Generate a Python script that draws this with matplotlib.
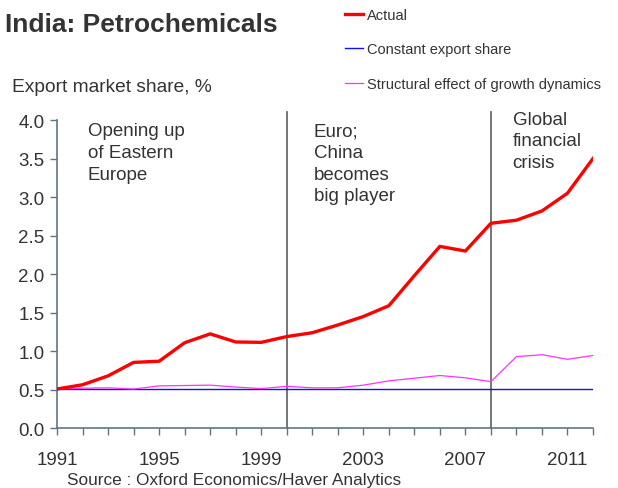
import matplotlib.pyplot as plt
import numpy as np

plt.rcParams['font.family'] = ['Liberation Sans', 'DejaVu Sans']

# export market share, % (India, petrochemicals)
years = np.arange(1991, 2013)
actual = [0.51, 0.565, 0.68, 0.855, 0.87, 1.11, 1.225, 1.12, 1.115, 1.19, 1.24,
          1.34, 1.45, 1.59, 1.98, 2.36, 2.30, 2.66, 2.70, 2.82, 3.05, 3.50]
constant = [0.505] * len(years)
structural = [0.51, 0.52, 0.525, 0.51, 0.55, 0.555, 0.56, 0.535, 0.515, 0.545, 0.525,
              0.525, 0.56, 0.615, 0.65, 0.685, 0.655, 0.605, 0.93, 0.955, 0.895, 0.945]

events = [2000, 2008]
event_labels = ['Opening up\nof Eastern\nEurope', 'Euro;\nChina\nbecomes\nbig player',
                'Global\nfinancial\ncrisis']
event_x = [1992.2, 2001.05, 2008.85]
event_y = [3.97, 3.97, 4.12]

txt = '#333333'
spine = '#5f7585'

fig = plt.figure(figsize=(6.18, 4.89), dpi=100)
ax = fig.add_axes([57 / 618, 1 - 429.3 / 489, 536 / 618, 308.3 / 489])

ax.plot(years, actual, color='#ff0000', lw=2.4, label='Actual', zorder=4)
ax.plot(years, constant, color='#1010ff', lw=1.0, label='Constant export share', zorder=3)
ax.plot(years, structural, color='#ff33ff', lw=0.9,
        label='Structural effect of growth dynamics', zorder=3)

for x in events:
    ax.plot([x, x], [0, 4.1], color='#6a6a6a', lw=1.3, clip_on=False, zorder=2)

for lab, x, y in zip(event_labels, event_x, event_y):
    ax.text(x, y, lab, ha='left', va='top', fontsize=13.5, color=txt, linespacing=1.36)

ax.set_xlim(1991, 2012)
ax.set_ylim(0, 4.0)
ax.set_xticks(years)
ax.set_xticklabels([str(y) if (y - 1991) % 4 == 0 else '' for y in years])
ax.set_yticks(np.arange(0, 4.01, 0.5))
ax.set_yticklabels([f'{v:.1f}' for v in np.arange(0, 4.01, 0.5)])
ax.tick_params(axis='both', direction='out', length=5, width=1, color=spine,
               labelsize=13.5, labelcolor=txt)
ax.tick_params(axis='x', pad=11)
ax.tick_params(axis='y', pad=4)
for s in ['top', 'right']:
    ax.spines[s].set_visible(False)
for s in ['left', 'bottom']:
    ax.spines[s].set_color(spine)
    ax.spines[s].set_linewidth(1.2)

fig.legend(loc='upper left', bbox_to_anchor=(339 / 618, 1 - 3 / 489), frameon=False,
           fontsize=10.5, labelcolor=txt, handlelength=1.25, handletextpad=0.25,
           labelspacing=1.4, borderaxespad=0)

fig.text(5 / 618, 1 - 25 / 489, 'India: Petrochemicals', fontsize=19, fontweight='bold',
         color=txt, va='center', ha='left')
fig.text(12 / 618, 1 - 88 / 489, 'Export market share, %', fontsize=13.8, color=txt,
         va='center', ha='left')
fig.text(67 / 618, 1 - 481 / 489, 'Source : Oxford Economics/Haver Analytics', fontsize=12.4,
         color=txt, va='center', ha='left')

fig.savefig('out.png', dpi=100)
